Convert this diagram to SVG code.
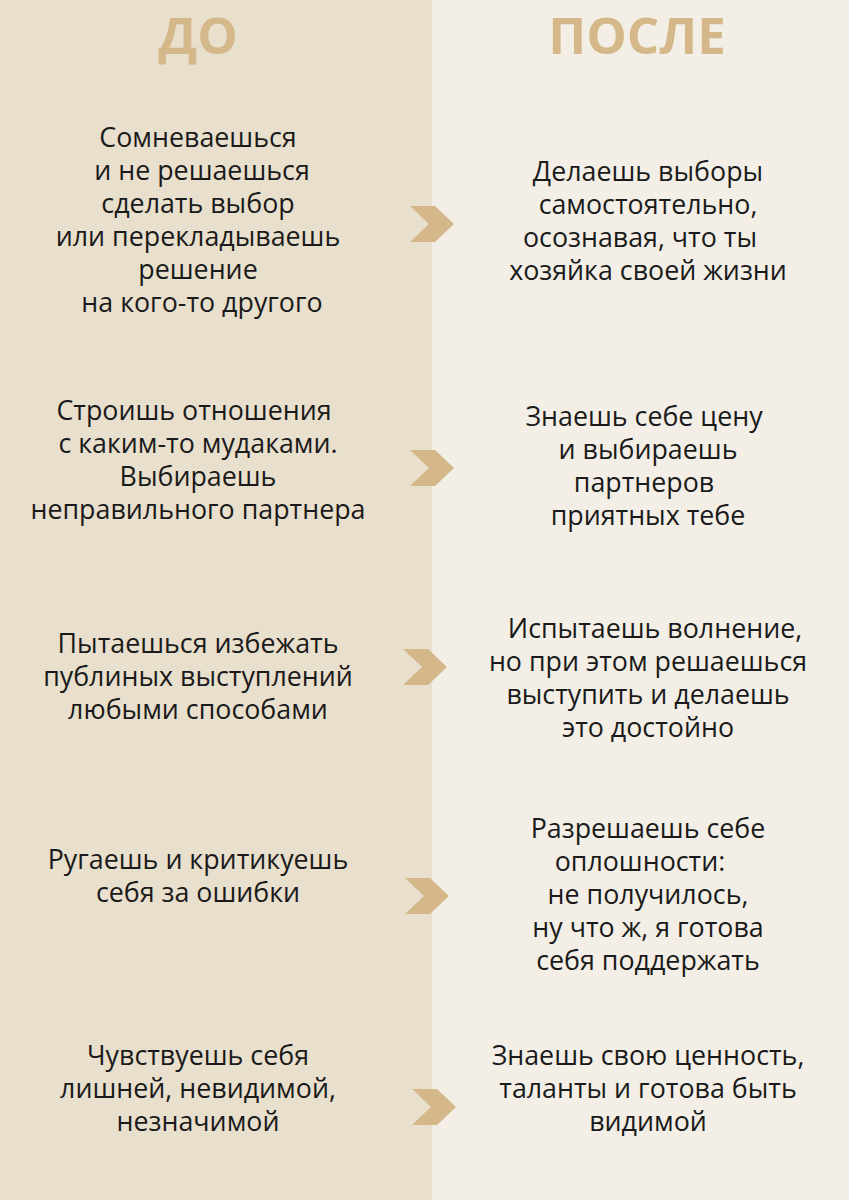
<svg xmlns="http://www.w3.org/2000/svg" width="849" height="1200" viewBox="0 0 849 1200">
<style>
.t{font-family:"Open Sans","Noto Sans",sans-serif;font-size:26.8px;fill:#1a1a1a;text-anchor:middle}
.h{font-family:"Open Sans","Noto Sans",sans-serif;font-size:51px;font-weight:bold;fill:#d4b88a;text-anchor:middle}
</style>
<defs><polygon id="chev" points="0,0 25,0 44,18 25,36 0,36 19,18" fill="#d4b88a"/></defs>
<rect x="0" y="0" width="432" height="1200" fill="#e9dfcd"/>
<rect x="432" y="0" width="417" height="1200" fill="#f3efe6"/>
<text class="h" x="198" y="54">ДО</text>
<text class="h" x="637" y="54">ПОСЛЕ</text>
<g id="l1"><text class="t" x="198" y="147">Сомневаешься</text><text class="t" x="202" y="180">и не решаешься</text><text class="t" x="198" y="213">сделать выбор</text><text class="t" x="198" y="246">или перекладываешь</text><text class="t" x="198" y="279">решение</text><text class="t" x="202" y="312">на кого-то другого</text></g>
<g id="r1"><text class="t" x="648" y="181">Делаешь выборы</text><text class="t" x="648" y="214">самостоятельно,</text><text class="t" x="640" y="247">осознавая, что ты</text><text class="t" x="648" y="280">хозяйка своей жизни</text></g>
<g id="l2"><text class="t" x="194" y="420">Строишь отношения</text><text class="t" x="198" y="453">с каким-то мудаками.</text><text class="t" x="198" y="486">Выбираешь</text><text class="t" x="198" y="519">неправильного партнера</text></g>
<g id="r2"><text class="t" x="644" y="426">Знаешь себе цену</text><text class="t" x="648" y="459">и выбираешь</text><text class="t" x="644" y="492">партнеров</text><text class="t" x="648" y="525">приятных тебе</text></g>
<g id="l3"><text class="t" x="198" y="653">Пытаешься избежать</text><text class="t" x="198" y="686">публиных выступлений</text><text class="t" x="198" y="719">любыми способами</text></g>
<g id="r3"><text class="t" x="655" y="638">Испытаешь волнение,</text><text class="t" x="648" y="671">но при этом решаешься</text><text class="t" x="648" y="704">выступить и делаешь</text><text class="t" x="648" y="737">это достойно</text></g>
<g id="l4"><text class="t" x="198" y="869">Ругаешь и критикуешь</text><text class="t" x="198" y="902">себя за ошибки</text></g>
<g id="r4"><text class="t" x="648" y="838">Разрешаешь себе</text><text class="t" x="640" y="871">оплошности:</text><text class="t" x="648" y="904">не получилось,</text><text class="t" x="648" y="937">ну что ж, я готова</text><text class="t" x="648" y="970">себя поддержать</text></g>
<g id="l5"><text class="t" x="198" y="1065">Чувствуешь себя</text><text class="t" x="198" y="1098">лишней, невидимой,</text><text class="t" x="198" y="1131">незначимой</text></g>
<g id="r5"><text class="t" x="648" y="1065">Знаешь свою ценность,</text><text class="t" x="648" y="1098">таланты и готова быть</text><text class="t" x="648" y="1131">видимой</text></g>
<g id="connectors">
<use href="#chev" x="410" y="206"/>
<use href="#chev" x="410" y="450"/>
<use href="#chev" x="403" y="649"/>
<use href="#chev" x="405" y="878"/>
<use href="#chev" x="412" y="1089"/>
</g>
</svg>
